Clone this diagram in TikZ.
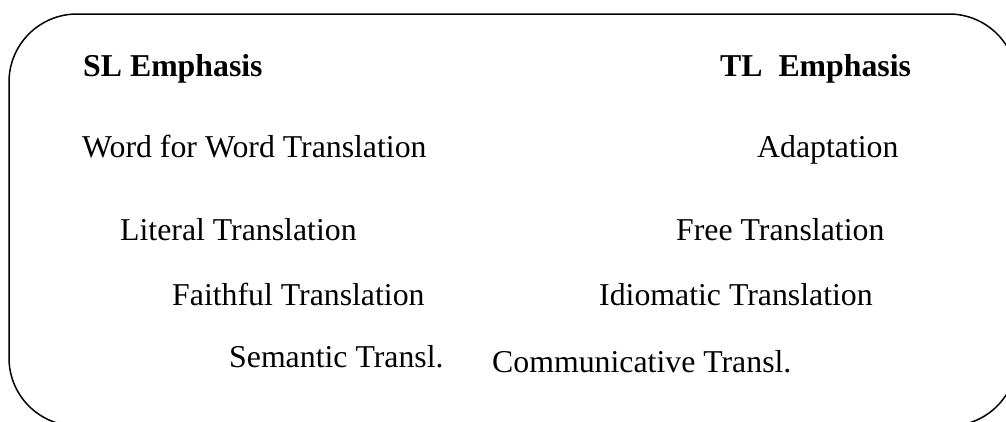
\documentclass[tikz,border=0pt]{standalone}
\usepackage{fontspec}
\setmainfont{Liberation Serif}
\begin{document}
\begin{tikzpicture}[x=1pt,y=-1pt,
  lbl/.style={anchor=base west,inner sep=0pt,font=\fontsize{31.8}{38}\selectfont},
  head/.style={lbl,font=\fontsize{31.8}{38}\selectfont\bfseries}]
\useasboundingbox (0,0) rectangle (1006,421);
\begin{scope}
\clip (0,0) rectangle (1006,421);
\draw[line width=1.5pt,rounded corners=68pt] (9,14) rectangle (1017,426);
\end{scope}
\node[head] (sl) at (83,76) {SL Emphasis};
\node[head] (tl) at (720,76) {TL\ \ Emphasis};
\node[lbl] (wfw) at (82,157) {Word for Word Translation};
\node[lbl] (ad) at (757,157) {Adaptation};
\node[lbl] (lit) at (120,240) {Literal Translation};
\node[lbl] (free) at (676,240) {Free Translation};
\node[lbl] (fai) at (172,305) {Faithful Translation};
\node[lbl] (idi) at (599,305) {Idiomatic Translation};
\node[lbl] (sem) at (229,367) {Semantic Transl.};
\node[lbl] (com) at (492,372) {Communicative Transl.};
\end{tikzpicture}
\end{document}
